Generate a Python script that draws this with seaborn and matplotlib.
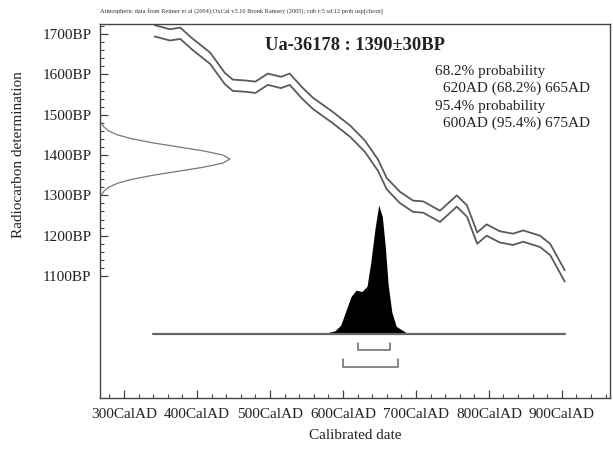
import numpy as np
import pandas as pd
import matplotlib
matplotlib.use('Agg')
import matplotlib.pyplot as plt
from matplotlib.ticker import FixedLocator
import seaborn as sns

# Calibration curve (IntCal04 centre line, BP)
cal_years = [342, 363, 377, 393, 418, 438, 449, 466, 480, 497, 515, 527, 544, 559, 586,
             610, 630, 648, 660, 678, 696, 710, 733, 756, 770, 784, 797, 815, 833, 847,
             870, 884, 904]
cal_bp = [1708, 1698, 1702, 1676, 1640, 1590, 1573, 1571, 1568, 1588, 1580, 1588, 1554,
          1528, 1493, 1459, 1422, 1375, 1329, 1295, 1273, 1271, 1248, 1286, 1261, 1194,
          1214, 1197, 1191, 1199, 1186, 1166, 1100]
cal_err = 14

# Radiocarbon determination (relative density against BP)
det_bp = [1300, 1310, 1320, 1330, 1340, 1350, 1360, 1370, 1380, 1390, 1400, 1410, 1420,
          1430, 1440, 1450, 1460, 1470, 1480]
det_rel = [0.011, 0.029, 0.066, 0.135, 0.249, 0.411, 0.607, 0.801, 0.946, 1.0, 0.946,
           0.801, 0.607, 0.411, 0.249, 0.135, 0.066, 0.029, 0.011]

# Calibrated probability (relative)
prob_years = [340, 555, 575, 589, 597, 604, 611, 618, 626, 633, 638, 644, 649, 654, 658,
              662, 667, 673, 687, 700, 745, 756, 768, 904]
prob_rel = [0, 0, 0.006, 0.025, 0.07, 0.18, 0.29, 0.34, 0.33, 0.37, 0.55, 0.82, 1.0, 0.91,
            0.68, 0.38, 0.17, 0.06, 0.01, 0, 0, 0.008, 0, 0]

range68 = [620, 665]
range95 = [600, 675]

x_major = [300, 400, 500, 600, 700, 800, 900]
y_major = [1100, 1200, 1300, 1400, 1500, 1600, 1700]

sns.set_theme(style="ticks")
plt.rcParams['font.family'] = ['Liberation Serif', 'DejaVu Serif']

fig = plt.figure(figsize=(6.13, 4.5), dpi=100)
ax = fig.add_axes([0.1631, 0.1156, 0.832, 0.8311])
XMIN, XMAX = 267, 966
YMIN, YMAX = 797.5, 1725
ax.set_xlim(XMIN, XMAX)
ax.set_ylim(YMIN, YMAX)

line_col = '#5a5a5a'

# calibration curve envelope
cal = pd.DataFrame({'year': cal_years, 'bp': cal_bp})
cal['hi'] = cal['bp'] + cal_err
cal['lo'] = cal['bp'] - cal_err
sns.lineplot(data=cal, x='year', y='hi', ax=ax, color=line_col, lw=1.3, estimator=None)
sns.lineplot(data=cal, x='year', y='lo', ax=ax, color=line_col, lw=1.3, estimator=None)

# radiocarbon determination on the y axis
det = pd.DataFrame({'bp': det_bp, 'rel': det_rel})
det['x'] = XMIN + 178 * det['rel']
ax.plot(det['x'], det['bp'], color='#777777', lw=0.9)

# calibrated distribution
base_bp = 956
scale_bp = 320
prob = pd.DataFrame({'year': prob_years, 'rel': prob_rel})
ax.fill_between(prob['year'], base_bp, base_bp + scale_bp * prob['rel'],
                color='black', lw=0)
ax.plot([prob_years[0], prob_years[-1]], [base_bp, base_bp], color='#666666', lw=1.6)

# probability range brackets
for rng, yb, yt in [(range68, 916, 933), (range95, 874, 893)]:
    ax.plot([rng[0], rng[0], rng[1], rng[1]], [yt, yb, yb, yt], color='#666666', lw=1.1)

# ticks
ax.xaxis.set_major_locator(FixedLocator(x_major))
ax.xaxis.set_minor_locator(FixedLocator(list(range(280, 961, 20))))
ax.yaxis.set_major_locator(FixedLocator(y_major))
ax.yaxis.set_minor_locator(FixedLocator(list(range(1100, 1721, 20))))
ax.set_xticklabels([f'{v}CalAD' for v in x_major])
ax.set_yticklabels([f'{v}BP' for v in y_major])
ax.tick_params(which='major', direction='in', length=6, width=0.9, color='#444444',
               labelsize=11, labelcolor='#222222')
ax.tick_params(axis='x', which='major', pad=7)
ax.tick_params(axis='y', which='major', pad=6)
ax.tick_params(which='minor', direction='in', length=3, width=0.8, color='#444444')
for s in ax.spines.values():
    s.set_color('#444444')
    s.set_linewidth(1.0)

ax.set_xlabel('Calibrated date', fontsize=11, color='#222222', labelpad=6)
ax.set_ylabel('Radiocarbon determination', fontsize=11, color='#222222')
ax.yaxis.set_label_coords(-0.147, 0.65)

fig.text(100 / 613, 1 - 12 / 450,
         'Atmospheric data from Reimer et al (2004);OxCal v3.10 Bronk Ramsey (2005); cub r:5 sd:12 prob usp[chron]',
         fontsize=4.6, color='#333333', va='center', ha='left')
fig.text(355 / 613, 1 - 45 / 450, 'Ua-36178 : 1390±30BP', fontsize=13.3,
         fontweight='bold', color='#222222', ha='center', va='center')
info = [('68.2% probability', 435, 71), ('620AD (68.2%) 665AD', 443, 88.5),
        ('95.4% probability', 435, 106.5), ('600AD (95.4%) 675AD', 443, 123.5)]
for txt, px, py in info:
    fig.text(px / 613, 1 - py / 450, txt, fontsize=11, color='#222222',
             ha='left', va='center')

fig.savefig('out.png', dpi=100)
